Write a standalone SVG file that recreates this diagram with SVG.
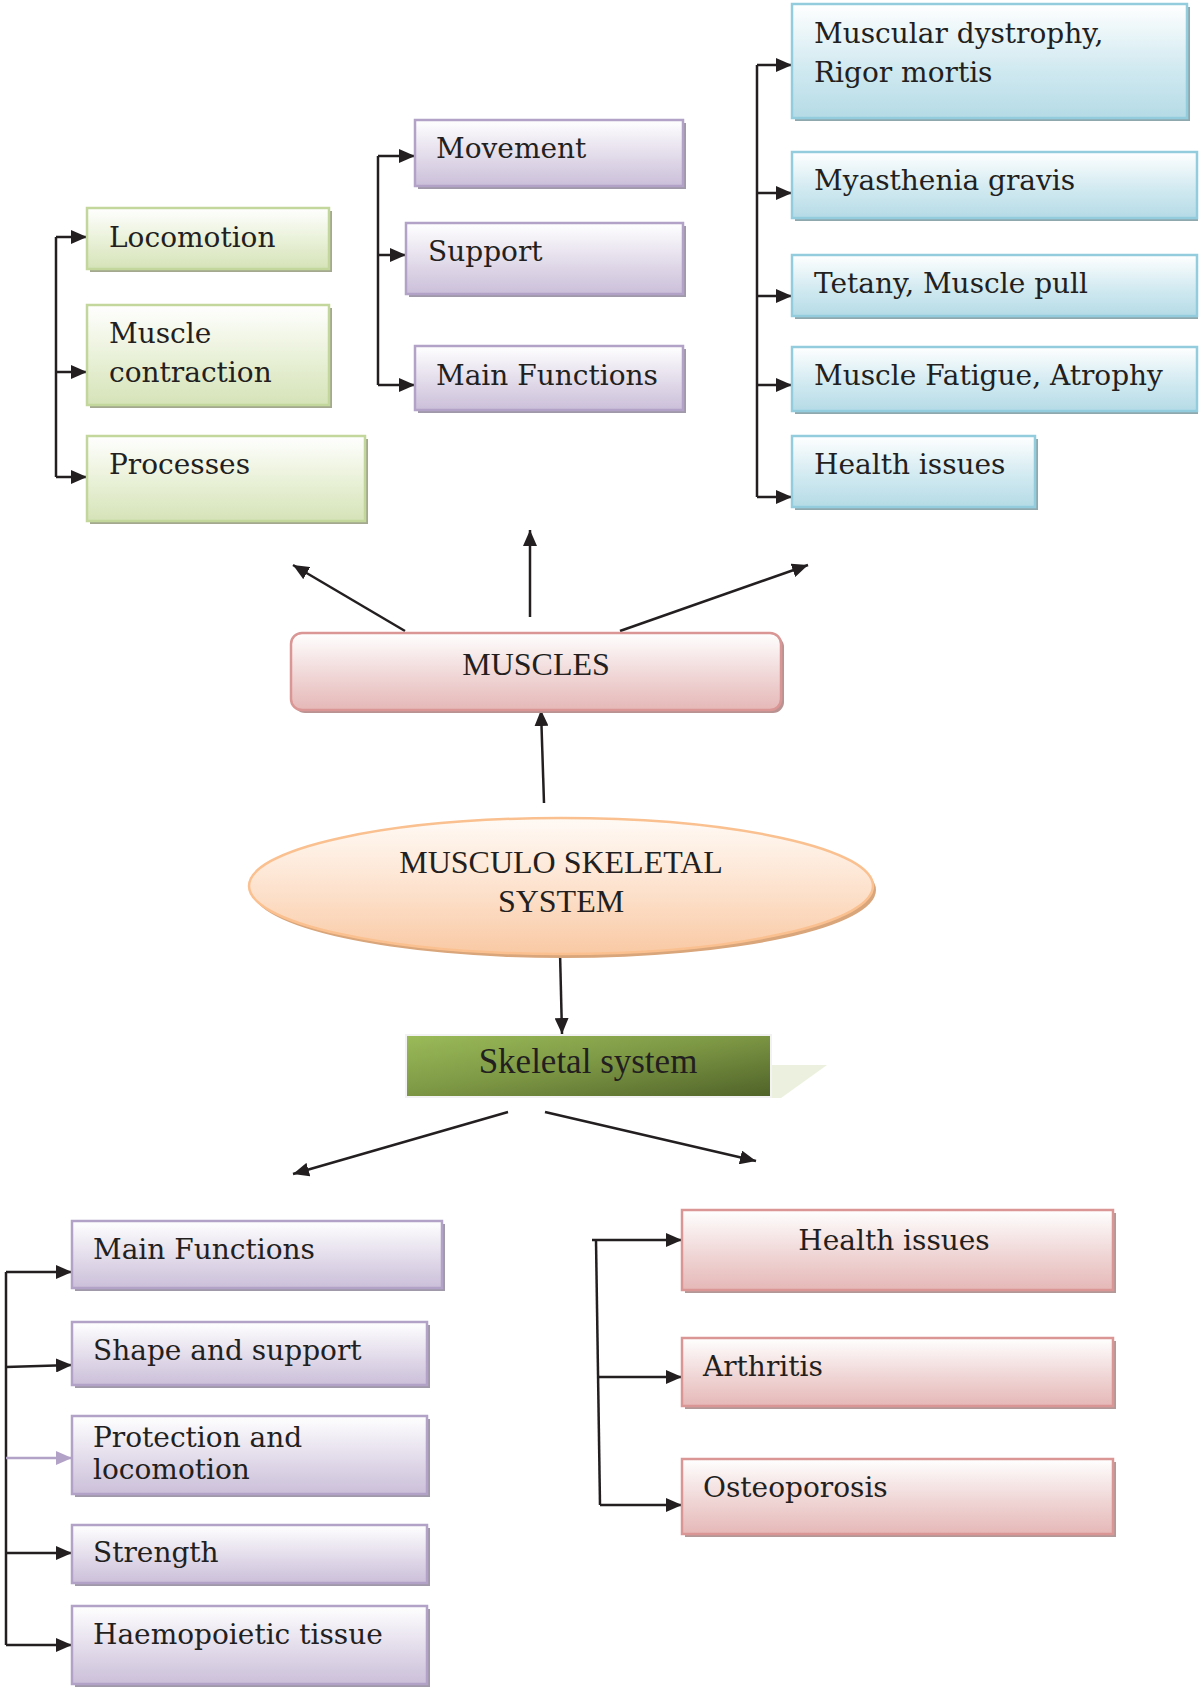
<svg xmlns="http://www.w3.org/2000/svg" width="1199" height="1689" viewBox="0 0 1199 1689">
<defs>
<linearGradient id="gGreen" x1="0" y1="0" x2="0" y2="1"><stop offset="0" stop-color="#ffffff"/><stop offset="0.55" stop-color="#e8f0d6"/><stop offset="1" stop-color="#d5e3b8"/></linearGradient>
<linearGradient id="gPurple" x1="0" y1="0" x2="0" y2="1"><stop offset="0" stop-color="#ffffff"/><stop offset="0.55" stop-color="#e2dbea"/><stop offset="1" stop-color="#cbbfd9"/></linearGradient>
<linearGradient id="gBlue" x1="0" y1="0" x2="0" y2="1"><stop offset="0" stop-color="#ffffff"/><stop offset="0.55" stop-color="#d2eaf1"/><stop offset="1" stop-color="#b5dbe6"/></linearGradient>
<linearGradient id="gPink" x1="0" y1="0" x2="0" y2="1"><stop offset="0" stop-color="#ffffff"/><stop offset="0.55" stop-color="#f0d6d6"/><stop offset="1" stop-color="#e5b8b7"/></linearGradient>
<linearGradient id="gOrange" x1="0" y1="0" x2="0" y2="1"><stop offset="0" stop-color="#fffaf6"/><stop offset="0.5" stop-color="#fde3cf"/><stop offset="1" stop-color="#f9c9a4"/></linearGradient>
<linearGradient id="gDark" x1="0" y1="0" x2="1" y2="1"><stop offset="0" stop-color="#9bbb59"/><stop offset="0.45" stop-color="#7f9a46"/><stop offset="1" stop-color="#4f6228"/></linearGradient>
<marker id="ah" markerUnits="userSpaceOnUse" markerWidth="17" markerHeight="14" refX="16" refY="7" orient="auto"><path d="M0,0 L16,7 L0,14 z" fill="#231f20"/></marker>
<marker id="ahp" markerUnits="userSpaceOnUse" markerWidth="17" markerHeight="14" refX="16" refY="7" orient="auto"><path d="M0,0 L16,7 L0,14 z" fill="#b3a2c7"/></marker>
</defs>
<style>
.t{font-family:"DejaVu Serif","Liberation Serif",serif;font-size:28px;fill:#231f20}
.c{font-family:"Liberation Serif",serif;font-size:32px;fill:#231f20;text-anchor:middle}
.green{fill:url(#gGreen);stroke:#c3d69b;stroke-width:2.5}
.purple{fill:url(#gPurple);stroke:#b3a2c7;stroke-width:2.5}
.blue{fill:url(#gBlue);stroke:#93cddd;stroke-width:2.5}
.pink{fill:url(#gPink);stroke:#d99694;stroke-width:2.5}
.shG{fill:#a3a88e}
.shP{fill:#a099aa}
.shB{fill:#8fa8ae}
.shR{fill:#b39898}
.ln{fill:none;stroke:#231f20;stroke-width:2.5}
.arr{fill:none;stroke:#231f20;stroke-width:2.5;marker-end:url(#ah)}
</style>
<rect width="1199" height="1689" fill="#ffffff"/>

<g id="connectors">
<path class="ln" d="M56,237 V477"/>
<path class="arr" d="M56,237 H87"/>
<path class="arr" d="M56,372 H87"/>
<path class="arr" d="M56,477 H87"/>
<path class="ln" d="M378,156 V385"/>
<path class="arr" d="M378,156 H415"/>
<path class="arr" d="M378,255 H406"/>
<path class="arr" d="M378,385 H415"/>
<path class="ln" d="M757,65 V497"/>
<path class="arr" d="M757,65 H792"/>
<path class="arr" d="M757,193 H792"/>
<path class="arr" d="M757,296 H792"/>
<path class="arr" d="M757,385 H792"/>
<path class="arr" d="M757,497 H792"/>
<path class="arr" d="M405,631 L293,565"/>
<path class="arr" d="M530,617 L530,530"/>
<path class="arr" d="M620,631 L808,565"/>
<path class="arr" d="M544,803 L541,710"/>
<path class="arr" d="M560,952 L562,1034"/>
<path class="arr" d="M508,1112 L293,1174"/>
<path class="arr" d="M545,1112 L756,1161"/>
<path class="ln" d="M6,1272 V1645"/>
<path class="arr" d="M6,1272 H72"/>
<path class="arr" d="M6,1367 L72,1365"/>
<path d="M6,1458 H72" fill="none" stroke="#b3a2c7" stroke-width="2.5" marker-end="url(#ahp)"/>
<path class="arr" d="M6,1553 H72"/>
<path class="arr" d="M6,1645 H72"/>
<path class="ln" d="M596,1240 L600,1505"/>
<path class="arr" d="M592,1240 H682"/>
<path class="arr" d="M598,1377 H682"/>
<path class="arr" d="M600,1505 H682"/>
</g>

<g id="n-locomotion"><rect class="shG" x="90" y="211" width="242" height="61"/><rect class="green" x="87" y="208" width="242" height="61"/><text class="t" x="109" y="247">Locomotion</text></g>
<g id="n-muscle-contraction"><rect class="shG" x="90" y="308" width="242" height="100"/><rect class="green" x="87" y="305" width="242" height="100"/><text class="t" x="109" y="343">Muscle</text><text class="t" x="109" y="382">contraction</text></g>
<g id="n-processes"><rect class="shG" x="90" y="439" width="278" height="85"/><rect class="green" x="87" y="436" width="278" height="85"/><text class="t" x="109" y="474">Processes</text></g>

<g id="n-movement"><rect class="shP" x="418" y="123" width="268" height="66"/><rect class="purple" x="415" y="120" width="268" height="66"/><text class="t" x="436" y="158">Movement</text></g>
<g id="n-support"><rect class="shP" x="409" y="226" width="277" height="71"/><rect class="purple" x="406" y="223" width="277" height="71"/><text class="t" x="428" y="261">Support</text></g>
<g id="n-main-functions-top"><rect class="shP" x="418" y="349" width="268" height="64"/><rect class="purple" x="415" y="346" width="268" height="64"/><text class="t" x="436" y="385">Main Functions</text></g>

<g id="n-muscular-dystrophy"><rect class="shB" x="795" y="7" width="395" height="114"/><rect class="blue" x="792" y="4" width="395" height="114"/><text class="t" x="814" y="43">Muscular dystrophy,</text><text class="t" x="814" y="82">Rigor mortis</text></g>
<g id="n-myasthenia"><rect class="shB" x="795" y="155" width="403" height="66"/><rect class="blue" x="792" y="152" width="405" height="66"/><text class="t" x="814" y="190">Myasthenia gravis</text></g>
<g id="n-tetany"><rect class="shB" x="795" y="258" width="403" height="61"/><rect class="blue" x="792" y="255" width="405" height="61"/><text class="t" x="814" y="293">Tetany, Muscle pull</text></g>
<g id="n-fatigue"><rect class="shB" x="795" y="350" width="403" height="64"/><rect class="blue" x="792" y="347" width="405" height="64"/><text class="t" x="814" y="385">Muscle Fatigue, Atrophy</text></g>
<g id="n-health-muscle"><rect class="shB" x="795" y="439" width="243" height="71"/><rect class="blue" x="792" y="436" width="243" height="71"/><text class="t" x="814" y="474">Health issues</text></g>

<g id="n-muscles"><rect x="294" y="636" width="490" height="77" rx="11" fill="#b99292"/><rect class="pink" x="291" y="633" width="490" height="77" rx="11"/><text class="c" x="536" y="675">MUSCLES</text></g>

<g id="n-musculo-skeletal"><ellipse cx="564" cy="890" rx="312" ry="68" fill="#d9a57a"/><ellipse cx="561" cy="886" rx="312" ry="68" fill="url(#gOrange)" stroke="#fac08f" stroke-width="2.5"/><text class="c" x="561" y="873">MUSCULO SKELETAL</text><text class="c" x="561" y="912">SYSTEM</text></g>

<g id="n-skeletal-system"><polygon points="771,1065 827,1065 781,1098 771,1098" fill="#ebf1de"/><rect x="406" y="1035" width="365" height="62" fill="url(#gDark)" stroke="#f2f2f2" stroke-width="2"/><text class="c" x="588" y="1073" style="font-size:35px">Skeletal system</text></g>

<g id="n-main-functions-bottom"><rect class="shP" x="75" y="1224" width="370" height="67"/><rect class="purple" x="72" y="1221" width="370" height="67"/><text class="t" x="93" y="1259">Main Functions</text></g>
<g id="n-shape-support"><rect class="shP" x="75" y="1325" width="355" height="63"/><rect class="purple" x="72" y="1322" width="355" height="63"/><text class="t" x="93" y="1360">Shape and support</text></g>
<g id="n-protection"><rect class="shP" x="75" y="1419" width="355" height="78"/><rect class="purple" x="72" y="1416" width="355" height="78"/><text class="t" x="93" y="1447">Protection and</text><text class="t" x="93" y="1479">locomotion</text></g>
<g id="n-strength"><rect class="shP" x="75" y="1528" width="355" height="58"/><rect class="purple" x="72" y="1525" width="355" height="58"/><text class="t" x="93" y="1562">Strength</text></g>
<g id="n-haemopoietic"><rect class="shP" x="75" y="1609" width="355" height="78"/><rect class="purple" x="72" y="1606" width="355" height="78"/><text class="t" x="93" y="1644">Haemopoietic tissue</text></g>

<g id="n-health-skeletal"><rect class="shR" x="685" y="1213" width="431" height="80"/><rect class="pink" x="682" y="1210" width="431" height="80"/><text class="t" x="894" y="1250" text-anchor="middle">Health issues</text></g>
<g id="n-arthritis"><rect class="shR" x="685" y="1341" width="431" height="68"/><rect class="pink" x="682" y="1338" width="431" height="68"/><text class="t" x="703" y="1376">Arthritis</text></g>
<g id="n-osteoporosis"><rect class="shR" x="685" y="1462" width="431" height="75"/><rect class="pink" x="682" y="1459" width="431" height="75"/><text class="t" x="703" y="1497">Osteoporosis</text></g>
</svg>
